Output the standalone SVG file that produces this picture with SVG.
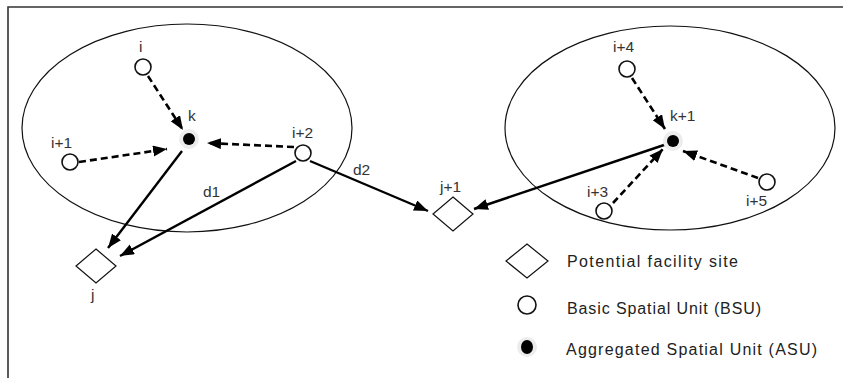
<svg xmlns="http://www.w3.org/2000/svg" width="843" height="378" viewBox="0 0 843 378">
<defs>
<marker id="ah" markerUnits="userSpaceOnUse" markerWidth="15" markerHeight="12" refX="14" refY="5.5" orient="auto">
<path d="M0,0 L14,5.5 L0,11 Z" fill="#000"/>
</marker>
<style>
.frame{fill:none;stroke:#333;stroke-width:1.6}
.ell{fill:none;stroke:#111;stroke-width:1.2}
.bsu{fill:#fff;stroke:#111;stroke-width:1.6}
.halo{fill:#ececec}
.asu{fill:#000}
.site{fill:#fff;stroke:#111;stroke-width:1.2}
.lbl{font-family:"Liberation Sans",Arial,sans-serif;font-size:15.5px;fill:#333}
.leg{font-family:"Liberation Sans",Arial,sans-serif;font-size:16px;fill:#222}
.dash{fill:none;stroke:#000;stroke-width:2.6;stroke-dasharray:7,4;marker-end:url(#ah)}
.sol{fill:none;stroke:#000;stroke-width:2.4;marker-end:url(#ah)}
</style>
</defs>
<rect width="843" height="378" fill="#fff"/>
<path class="frame" d="M8,380 L8,7 L845,7"/>
<g id="cluster-left"><ellipse class="ell" cx="187" cy="128" rx="165" ry="104"/></g>
<g id="cluster-right"><ellipse class="ell" cx="670" cy="128" rx="165" ry="102"/></g>
<g id="connectors">
<path class="dash" d="M148,76 L183,130"/>
<path class="dash" d="M79,162 L167,149"/>
<path class="dash" d="M294,147 L207,143"/>
<path class="sol" d="M182,151 L108,248"/>
<path class="sol" d="M296,161 L120,256"/>
<path class="sol" d="M310,161 L428,211"/>
<path class="sol" d="M667,144 L474,209"/>
<path class="dash" d="M613,203 L663,149"/>
<path class="dash" d="M758,178 L683,151"/>
<path class="dash" d="M632,78 L665,129"/>
</g>
<g id="node-i"><circle class="bsu" cx="143" cy="67" r="8"/><text class="lbl" x="139" y="52">i</text></g>
<g id="node-i1"><circle class="bsu" cx="70" cy="162" r="8"/><text class="lbl" x="51" y="148">i+1</text></g>
<g id="node-i2"><circle class="bsu" cx="303" cy="153" r="8"/><text class="lbl" x="292" y="138">i+2</text></g>
<g id="node-k"><circle class="halo" cx="189" cy="139" r="10"/><circle class="asu" cx="189" cy="139" r="6"/><text class="lbl" x="188" y="121">k</text></g>
<g id="node-i4"><circle class="bsu" cx="627" cy="69" r="8"/><text class="lbl" x="613" y="52">i+4</text></g>
<g id="node-k1"><circle class="halo" cx="673" cy="141" r="10"/><circle class="asu" cx="673" cy="141" r="6"/><text class="lbl" x="670" y="121">k+1</text></g>
<g id="node-i5"><circle class="bsu" cx="767" cy="182" r="8"/><text class="lbl" x="746" y="206">i+5</text></g>
<g id="node-i3"><circle class="bsu" cx="604" cy="211" r="8"/><text class="lbl" x="587" y="197">i+3</text></g>
<g id="node-j"><path class="site" d="M96,249 L116,266 L96,283 L76,266 Z"/><text class="lbl" x="91" y="300">j</text></g>
<g id="node-j1"><path class="site" d="M453,197 L473,214 L453,231 L433,214 Z"/><text class="lbl" x="440" y="192">j+1</text></g>
<g id="edge-labels"><text class="lbl" x="203" y="197">d1</text><text class="lbl" x="353" y="175">d2</text></g>
<g id="legend">
<path class="site" d="M527,244 L548,261 L527,278 L506,261 Z"/>
<text class="leg" x="567" y="267" textLength="171" lengthAdjust="spacing">Potential facility site</text>
<circle class="bsu" cx="527" cy="305" r="9"/>
<text class="leg" x="567" y="314" textLength="194" lengthAdjust="spacing">Basic Spatial Unit (BSU)</text>
<circle class="halo" cx="527" cy="347" r="10"/><ellipse class="asu" cx="527" cy="347" rx="6" ry="7"/>
<text class="leg" x="566" y="355" textLength="251" lengthAdjust="spacing">Aggregated Spatial Unit (ASU)</text>
</g>
</svg>
